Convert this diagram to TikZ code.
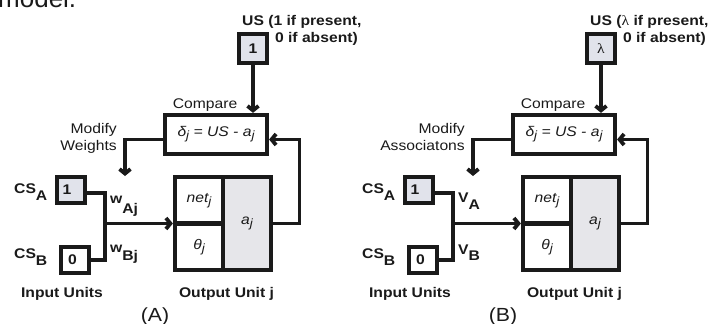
\documentclass[tikz,border=0pt]{standalone}
\usepackage{fontspec}
\setmainfont{Liberation Sans}[FakeStretch=1.12]
\newfontfamily\lserif{Liberation Serif}[FakeStretch=1.12]
\newfontfamily\plainsans{Liberation Sans}
\usetikzlibrary{arrows.meta,calc}
\definecolor{ink}{HTML}{1A1A1A}
\definecolor{unitfill}{HTML}{E1E3EB}
\definecolor{actfill}{HTML}{E6E6EA}
\newcommand{\lowsub}[1]{\raisebox{-3pt}{\fontsize{12}{12}\selectfont #1}}
\newcommand{\dropsub}[2]{\raisebox{-#1}{#2}}
\tikzset{
  unitbox/.style={draw=ink, line width=4.2pt, inner sep=0pt, text=ink,
    font=\fontsize{14}{18}\selectfont\bfseries},
  wire/.style={draw=ink, line width=3.8pt},
  tip/.style={-{Straight Barb[length=4.5pt,width=11pt]}},
  lbl/.style={text=ink, inner sep=0pt, font=\fontsize{14}{18}\selectfont},
  blbl/.style={text=ink, inner sep=0pt, font=\fontsize{14}{18}\selectfont\bfseries},
  cellfont/.style={text=ink, font=\fontsize{14}{18}\selectfont\itshape}
}
\newcommand{\panel}[8]{%
\begin{scope}[xshift=#2]
  % units
  \node[unitbox, fill=unitfill, minimum width=28pt, minimum height=29pt] (#1us) at (253,48.5) {#4};
  \node[unitbox, minimum width=102pt, minimum height=39pt, font=\fontsize{14}{18}\selectfont\itshape] (#1cmp) at (216,134.5) {δ\lowsub{j} = US - a\lowsub{j}};
  \node[unitbox, fill=unitfill, minimum width=28pt, minimum height=26pt] (#1csa) at (71,190) {1\hspace*{8pt}};
  \node[unitbox, minimum width=28pt, minimum height=26pt] (#1csb) at (75,260) {0\hspace*{5pt}};
  \node[unitbox, cellfont, fill=actfill, minimum width=48pt, minimum height=93pt] (#1act) at (247,223.5) {a\lowsub{j}};
  \node[unitbox, cellfont, minimum width=48pt, minimum height=46.5pt] (#1net) at (199,200.25) {net\lowsub{j}};
  \node[unitbox, cellfont, minimum width=48pt, minimum height=46.5pt] (#1theta) at (199,246.75) {θ\lowsub{j}};
  % labels
  \node[blbl, anchor=base west] (#1usl1) at (242,25) {#3};
  \node[blbl, anchor=base east] (#1usl2) at (358,42) {0 if absent)};
  \node[lbl, anchor=base] (#1cmpl) at (205,108) {Compare};
  \node[lbl, anchor=base east] (#1mod1) at (117,133) {Modify};
  \node[lbl, anchor=base east] (#1mod2) at (117,150) {#5};
  \node[blbl, anchor=base west] (#1csal) at (14,193) {CS\dropsub{7pt}{A}};
  \node[blbl, anchor=base west] (#1csbl) at (14,258) {CS\dropsub{7pt}{B}};
  \node[blbl, anchor=base west] (#1wal) at (110,203) {#6};
  \node[blbl, anchor=base west] (#1wbl) at (110,252) {#7};
  \node[blbl, anchor=base] (#1inl) at (62,297) {Input Units};
  \node[blbl, anchor=base] (#1outl) at (226.5,297) {Output Unit j};
  \node[lbl, anchor=base, font=\fontsize{19}{21}\selectfont] (#1cap) at (155,321) {#8};
  % connectors
  \coordinate (#1j) at (105,223.5);
  \coordinate (#1mtip) at (125,176);
  \coordinate (#1fb) at (299.5,139.5);
  \draw[wire, tip] (#1us.south) -- (#1us.south |- #1cmp.north);
  \draw[wire] ($(#1csa.east)+(0,3)$) -| (#1j) |- (#1csb.east);
  \draw[wire, tip] (#1j) -- (#1j -| #1net.west);
  \draw[wire, tip] ($(#1cmp.west)+(0,5)$) -| (#1mtip);
  \draw[wire, tip] (#1act.east) -| (#1fb) -- (#1fb -| #1cmp.east);
\end{scope}}
\begin{document}
\begin{tikzpicture}[x=1pt,y=-1pt]
\useasboundingbox (0,0) rectangle (710,324);
\node[lbl, anchor=base west, font=\plainsans\fontsize{26}{28}\selectfont] (model) at (-2,7.5) {model.};
\panel{A}{0pt}{US (1 if present,}{1}{Weights}{w\dropsub{10pt}{Aj}}{w\dropsub{8pt}{Bj}}{(A)}
\panel{B}{348pt}{US ({\lserif\mdseries λ} if present,}{{\lserif\mdseries λ}}{Associatons}{\raisebox{1pt}{V\dropsub{7pt}{A}}}{\raisebox{-2pt}{V\dropsub{6pt}{B}}}{(B)}
\end{tikzpicture}
\end{document}
